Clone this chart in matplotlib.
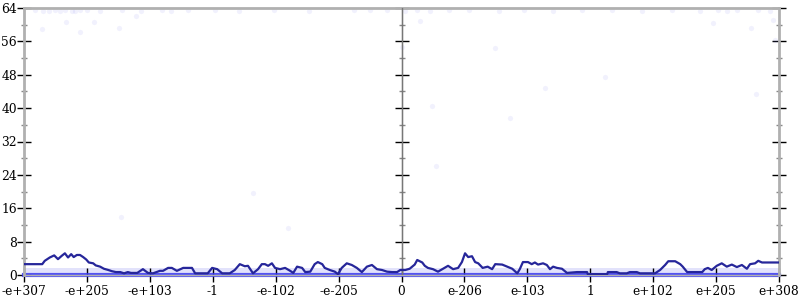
import numpy as np
import matplotlib
matplotlib.use('Agg')
import matplotlib.pyplot as plt

#axis labels (tick positions are 0..12 along the double range)
tick_labels = ['-e+307', '-e+205', '-e+103', '-1', '-e-102', '-e-205', '0',
               'e-206', 'e-103', '1', 'e+102', 'e+205', 'e+308']

#running line
line_x = [0.00, 0.29, 0.33, 0.41, 0.48, 0.54, 0.60, 0.65, 0.70, 0.75, 0.79, 0.84,
          0.89, 0.94, 0.99, 1.03, 1.10, 1.14, 1.21, 1.27, 1.34, 1.40, 1.46, 1.53,
          1.59, 1.65, 1.70, 1.80, 1.89, 1.97, 2.05, 2.16, 2.21, 2.29, 2.35, 2.43,
          2.53, 2.67, 2.72, 2.92, 2.99, 3.07, 3.15, 3.27, 3.35, 3.43, 3.51, 3.56,
          3.64, 3.72, 3.78, 3.83, 3.88, 3.94, 3.99, 4.07, 4.15, 4.23, 4.28, 4.34,
          4.42, 4.47, 4.55, 4.62, 4.67, 4.74, 4.78, 4.86, 4.94, 4.99, 5.05, 5.13,
          5.21, 5.29, 5.37, 5.45, 5.53, 5.61, 5.69, 5.77, 5.85, 5.93, 5.98, 6.06,
          6.13, 6.21, 6.25, 6.33, 6.37, 6.42, 6.50, 6.58, 6.66, 6.74, 6.82, 6.90,
          6.96, 7.01, 7.06, 7.12, 7.17, 7.22, 7.29, 7.37, 7.44, 7.49, 7.60, 7.68,
          7.76, 7.84, 7.88, 7.93, 8.01, 8.07, 8.12, 8.17, 8.25, 8.31, 8.36, 8.41,
          8.47, 8.55, 8.63, 8.79, 8.95, 8.96, 9.27, 9.28, 9.42, 9.47, 9.58, 9.63,
          9.74, 9.79, 10.03, 10.11, 10.19, 10.24, 10.35, 10.43, 10.47, 10.54, 10.78,
          10.82, 10.87, 10.93, 11.01, 11.09, 11.17, 11.25, 11.33, 11.41, 11.49,
          11.54, 11.62, 11.67, 11.73, 12.00]
line_y = [2.6, 2.6, 3.4, 4.2, 4.7, 3.8, 4.6, 5.2, 4.2, 5.0, 4.3, 4.8,
          4.8, 4.3, 3.7, 3.0, 2.8, 2.3, 2.0, 1.5, 1.2, 0.9, 0.7, 0.7,
          0.4, 0.7, 0.5, 0.5, 1.4, 0.5, 0.4, 1.0, 1.0, 1.7, 1.7, 1.0,
          1.7, 1.7, 0.4, 0.4, 1.7, 1.4, 0.4, 0.4, 1.2, 2.6, 2.1, 2.2,
          0.4, 1.4, 2.6, 2.6, 2.2, 2.8, 1.7, 1.4, 1.7, 1.0, 0.5, 2.0,
          1.7, 0.7, 0.8, 2.6, 3.1, 2.6, 1.7, 1.2, 0.8, 0.2, 1.7, 2.8,
          2.4, 1.7, 0.7, 2.0, 2.4, 1.4, 1.2, 0.8, 0.7, 0.7, 1.2, 1.2,
          1.5, 2.5, 3.6, 3.0, 2.2, 1.7, 1.4, 0.8, 1.5, 2.2, 1.4, 1.7,
          3.1, 5.2, 4.3, 4.5, 3.1, 2.8, 1.7, 2.0, 1.4, 2.6, 2.5, 2.0,
          1.5, 0.4, 1.4, 3.1, 3.1, 2.6, 3.0, 2.5, 2.8, 2.4, 1.4, 2.0,
          1.7, 1.5, 0.5, 0.7, 0.7, 0.2, 0.2, 0.7, 0.7, 0.4, 0.4, 0.7,
          0.7, 0.4, 0.4, 1.2, 2.4, 3.3, 3.3, 2.6, 2.0, 0.7, 0.7,
          1.4, 1.7, 1.2, 2.2, 2.8, 2.0, 2.5, 1.9, 2.4, 1.5,
          2.6, 2.8, 3.4, 3.0, 3.0]

#faint samples away from zero
pts_x = [0.17, 0.30, 0.40, 0.49, 0.57, 0.65, 0.76, 0.81, 0.89, 1.00, 1.21, 1.56,
         1.86, 2.19, 2.33, 2.60, 3.03, 3.41, 3.97, 4.53, 5.25, 5.50, 5.77, 6.05,
         6.25, 6.45, 6.76, 7.08, 7.55, 7.95, 8.40, 8.87, 9.35, 9.83, 10.30, 10.75,
         11.03, 11.18, 11.34, 11.66, 11.85, 0.29, 0.67, 0.89, 1.11, 1.51, 1.78,
         6.30, 6.01, 10.95, 11.55, 11.90, 11.64, 1.54, 3.64, 4.19, 6.48, 6.55,
         7.49, 7.72, 8.28, 9.23, 11.93]
pts_y = [63.6, 63.4, 63.2, 63.6, 63.3, 63.5, 63.4, 63.2, 63.6, 63.5, 63.3, 63.6,
         63.4, 63.5, 63.3, 63.6, 63.5, 63.4, 63.6, 63.3, 63.5, 63.6, 63.5, 63.3,
         63.6, 63.4, 63.5, 63.6, 63.3, 63.5, 63.4, 63.6, 63.5, 63.3, 63.6, 63.4,
         63.5, 63.3, 63.6, 63.5, 63.4, 59.0, 60.7, 58.3, 60.7, 59.2, 62.1,
         60.9, 54.7, 60.4, 59.2, 61.2, 43.4, 13.9, 19.7, 11.3, 40.5, 26.1,
         54.4, 37.6, 44.8, 47.5, 56.4]

#dense cloud right above zero
band_x = [0, 12]
band_top = [1.7, 1.7]

line_color = '#26269a'
pt_color = '#7b7bf0'
axis_gray = '#b0b0b0'

plt.rcParams['font.family'] = 'DejaVu Serif'
fig = plt.figure(figsize=(8, 3), dpi=100)
ax = fig.add_axes([24/800, 25/300, 755/800, 267/300])

ax.fill_between(band_x, 0, band_top, color='#d6d6fa', alpha=0.7, lw=0, zorder=1)
ax.axhline(0, color='#3a3af0', lw=3, alpha=0.85, zorder=2, clip_on=False)
ax.scatter(pts_x, pts_y, s=14, color=pt_color, alpha=0.1, lw=0, zorder=2)
ax.plot(line_x, line_y, color=line_color, lw=1.6, zorder=4)

ax.set_xlim(0, 12)
ax.set_ylim(0, 64)
ax.axvline(6, color='#777777', lw=1, zorder=3)

for s in ['left', 'right', 'top']:
    ax.spines[s].set_color(axis_gray)
    ax.spines[s].set_linewidth(2)
ax.spines['bottom'].set_color(axis_gray)
ax.spines['bottom'].set_linewidth(1)

ax.set_xticks(range(13))
ax.set_xticklabels(tick_labels)
ax.set_yticks(range(0, 65, 8))
ax.set_yticks(range(4, 64, 8), minor=True)
ax.tick_params(axis='y', which='major', direction='inout', length=10, width=1,
               color='black', labelsize=8.8, pad=0, right=True)
ax.tick_params(axis='y', which='minor', direction='inout', length=5, width=1,
               color='#888888', right=True)
ax.tick_params(axis='x', which='major', direction='inout', length=10, width=1,
               color='black', labelsize=8.8, pad=2)

mid = ax.secondary_yaxis(0.5)
mid.spines['left'].set_visible(False)
mid.set_yticks(range(0, 65, 8))
mid.set_yticks(range(4, 64, 8), minor=True)
mid.set_yticklabels([])
mid.tick_params(which='major', direction='inout', length=10, width=1, color='black')
mid.tick_params(which='minor', direction='inout', length=5, width=1, color='#888888')

fig.savefig('out.png', dpi=100)
